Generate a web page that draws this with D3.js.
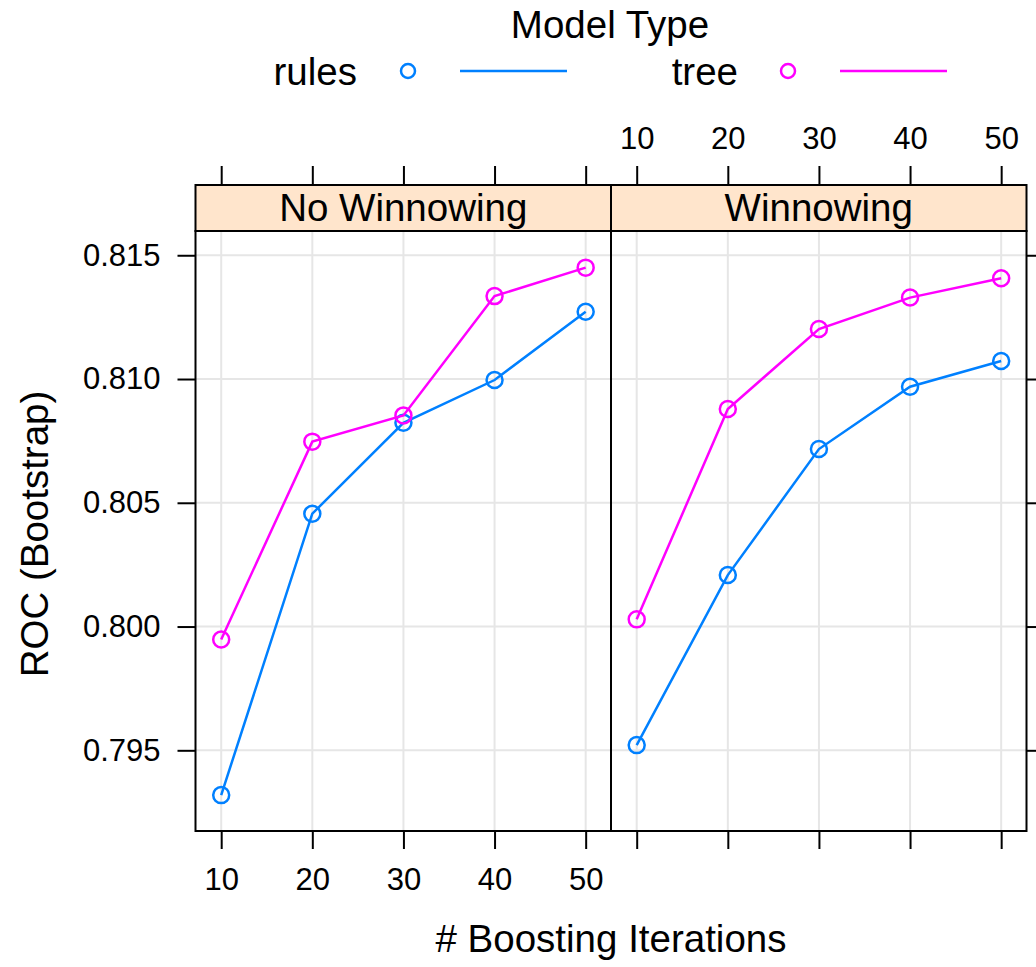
<!DOCTYPE html>
<html>
<head>
<meta charset="utf-8">
<script src="https://cdn.jsdelivr.net/npm/d3@7"></script>
<style>
  html, body { margin: 0; padding: 0; background: #fff; }
  svg { display: block; font-family: "Liberation Sans", Arial, Helvetica, sans-serif; }
</style>
</head>
<body>
<svg id="chart" width="1036" height="967"></svg>
<script>
// Boosting iterations on the x axis
const iterations = [10, 20, 30, 40, 50];
const xTicks = [10, 20, 30, 40, 50];
const yTicks = [0.795, 0.800, 0.805, 0.810, 0.815];
const panels = ["No Winnowing", "Winnowing"];
const modelTypes = ["rules", "tree"];

// ROC (bootstrap) per panel and model type
const noWinnowRules = [0.79319, 0.80456, 0.80823, 0.80996, 0.81272];
const noWinnowTree  = [0.79948, 0.80747, 0.80853, 0.81335, 0.81450];
const winnowRules   = [0.79521, 0.80208, 0.80717, 0.80969, 0.81073];
const winnowTree    = [0.80029, 0.80879, 0.81202, 0.81329, 0.81407];

const colors = { rules: "#0080ff", tree: "#ff00ff" };

const seriesByPanel = [
  { rules: noWinnowRules, tree: noWinnowTree },
  { rules: winnowRules, tree: winnowTree }
];

const svg = d3.select("#chart");

// panel geometry
const panelTop = 231, panelBottom = 831, stripTop = 185;
const panelX = [[195.5, 611], [611, 1026.5]];
const baseFont = 38.5, tickFont = 31;

const y = d3.scaleLinear().domain([0.79174, 0.81598]).range([panelBottom, panelTop]);
const xScales = panelX.map(([a, b]) => d3.scaleLinear().domain([7.18, 52.78]).range([a, b]));

panels.forEach((name, i) => {
  const x = xScales[i];
  const [x0, x1] = panelX[i];
  const g = svg.append("g");

  // grid
  g.selectAll("line.vg").data(xTicks).join("line")
    .attr("x1", d => x(d)).attr("x2", d => x(d))
    .attr("y1", panelTop).attr("y2", panelBottom)
    .attr("stroke", "#e6e6e6").attr("stroke-width", 2);
  g.selectAll("line.hg").data(yTicks).join("line")
    .attr("x1", x0).attr("x2", x1)
    .attr("y1", d => y(d)).attr("y2", d => y(d))
    .attr("stroke", "#e6e6e6").attr("stroke-width", 2);

  // series
  modelTypes.forEach(m => {
    const vals = seriesByPanel[i][m];
    const pts = iterations.map((it, k) => [x(it), y(vals[k])]);
    g.append("path")
      .attr("d", d3.line()(pts))
      .attr("fill", "none").attr("stroke", colors[m]).attr("stroke-width", 2.5);
    g.selectAll(null).data(pts).join("circle")
      .attr("cx", d => d[0]).attr("cy", d => d[1]).attr("r", 8)
      .attr("fill", "none").attr("stroke", colors[m]).attr("stroke-width", 2.5);
  });

  // strip
  g.append("rect")
    .attr("x", x0).attr("y", stripTop).attr("width", x1 - x0).attr("height", panelTop - stripTop)
    .attr("fill", "#ffe5cc").attr("stroke", "#000").attr("stroke-width", 2);
  g.append("text")
    .attr("x", (x0 + x1) / 2).attr("y", (stripTop + panelTop) / 2)
    .attr("dy", "0.35em").attr("text-anchor", "middle")
    .attr("font-size", baseFont).text(name);

  // panel border
  g.append("rect")
    .attr("x", x0).attr("y", panelTop).attr("width", x1 - x0).attr("height", panelBottom - panelTop)
    .attr("fill", "none").attr("stroke", "#000").attr("stroke-width", 2);

  // bottom axis (labels on the first panel), top axis (labels on the second)
  const bottom = d3.axisBottom(x).tickValues(xTicks).tickSize(18).tickPadding(19)
    .tickFormat(i === 0 ? d3.format("d") : () => "");
  const top = d3.axisTop(x).tickValues(xTicks).tickSize(19).tickPadding(17)
    .tickFormat(i === 1 ? d3.format("d") : () => "");
  const ab = svg.append("g").attr("transform", `translate(0,${panelBottom})`).call(bottom);
  const at = svg.append("g").attr("transform", `translate(0,${stripTop})`).call(top);
  [ab, at].forEach(a => {
    a.select(".domain").remove();
    a.selectAll("line").attr("stroke", "#000").attr("stroke-width", 2);
    a.selectAll("text").attr("font-size", tickFont).attr("fill", "#000")
      .attr("font-family", "Liberation Sans, Arial, sans-serif");
  });
});

// left axis with labels, right axis ticks only
const left = d3.axisLeft(y).tickValues(yTicks).tickSize(18).tickPadding(17).tickFormat(d3.format(".3f"));
const right = d3.axisRight(y).tickValues(yTicks).tickSize(18).tickFormat(() => "");
const al = svg.append("g").attr("transform", `translate(${panelX[0][0]},0)`).call(left);
const ar = svg.append("g").attr("transform", `translate(${panelX[1][1]},0)`).call(right);
[al, ar].forEach(a => {
  a.select(".domain").remove();
  a.selectAll("line").attr("stroke", "#000").attr("stroke-width", 2);
  a.selectAll("text").attr("font-size", tickFont).attr("fill", "#000")
    .attr("font-family", "Liberation Sans, Arial, sans-serif");
});

// axis titles
svg.append("text")
  .attr("x", 611).attr("y", 939).attr("dy", "0.35em").attr("text-anchor", "middle")
  .attr("font-size", baseFont).text("# Boosting Iterations");
svg.append("text")
  .attr("transform", "translate(35,534) rotate(-90)")
  .attr("dy", "0.35em").attr("text-anchor", "middle")
  .attr("font-size", baseFont).text("ROC (Bootstrap)");

// legend
const legend = svg.append("g");
legend.append("text")
  .attr("x", 610).attr("y", 25).attr("dy", "0.35em").attr("text-anchor", "middle")
  .attr("font-size", baseFont).text("Model Type");
const legendItems = [
  { key: "rules", textEnd: 357, cx: 408, lx: [460, 567] },
  { key: "tree", textEnd: 738, cx: 788, lx: [840, 947] }
];
legendItems.forEach(it => {
  legend.append("text")
    .attr("x", it.textEnd).attr("y", 72).attr("dy", "0.35em").attr("text-anchor", "end")
    .attr("font-size", baseFont).text(it.key);
  legend.append("circle")
    .attr("cx", it.cx).attr("cy", 71).attr("r", 7)
    .attr("fill", "none").attr("stroke", colors[it.key]).attr("stroke-width", 2.5);
  legend.append("line")
    .attr("x1", it.lx[0]).attr("x2", it.lx[1]).attr("y1", 71).attr("y2", 71)
    .attr("stroke", colors[it.key]).attr("stroke-width", 2.5);
});
</script>
</body>
</html>
